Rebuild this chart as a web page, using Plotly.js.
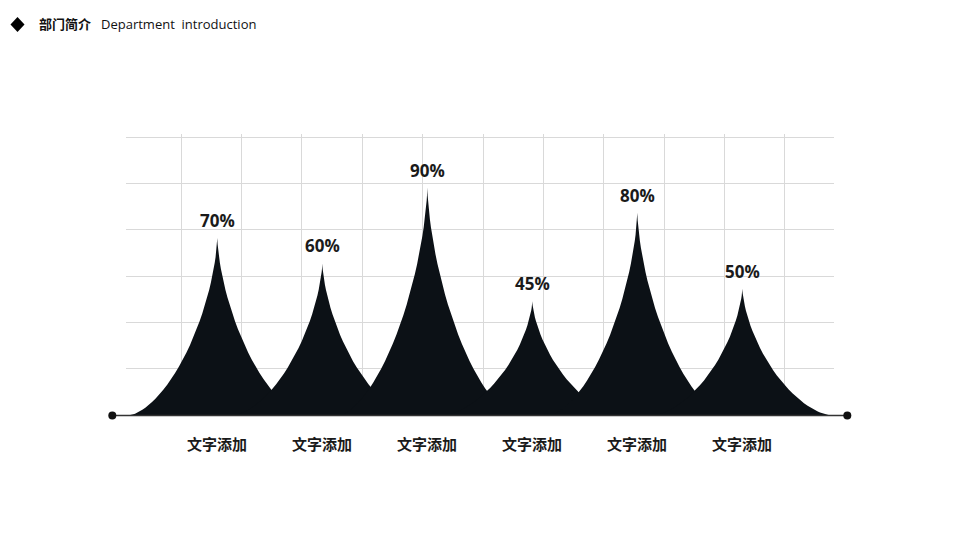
<!DOCTYPE html>
<html>
<head>
<meta charset="utf-8">
<script src="https://cdn.plot.ly/plotly-3.0.1.min.js"></script>
<style>
  html, body { margin: 0; padding: 0; background: #fff; }
  #chart { width: 960px; height: 548px; }
</style>
</head>
<body>
<div id="chart"></div>
<script>
// data
let categories = ['文字添加', '文字添加', '文字添加', '文字添加', '文字添加', '文字添加'];
let values = [70, 60, 90, 45, 80, 50];
let valueLabels = ['70%', '60%', '90%', '45%', '80%', '50%'];

let spikeColor = '#0c1116';
let halfWidth = 0.83;   // half of the spike base, in category units
let steps = 40;

// concave spike: astroid-like sides, flat at the foot, sharp at the tip
function spike(i, v) {
  let xs = [];
  let ys = [];
  for (let k = 0; k <= steps; k++) {
    let t = (k / steps) * Math.PI / 2;
    xs.push(i - halfWidth * Math.pow(Math.cos(t), 3));
    ys.push(v * Math.pow(Math.sin(t), 3));
  }
  for (let k = steps - 1; k >= 0; k--) {
    let t = (k / steps) * Math.PI / 2;
    xs.push(i + halfWidth * Math.pow(Math.cos(t), 3));
    ys.push(v * Math.pow(Math.sin(t), 3));
  }
  return {
    x: xs,
    y: ys,
    type: 'scatter',
    mode: 'lines',
    fill: 'toself',
    fillcolor: spikeColor,
    line: {width: 0, color: spikeColor},
    hoverinfo: 'skip',
    showlegend: false
  };
}

let data = [];
for (let i = 0; i < values.length; i++) {
  data.push(spike(i, values[i]));
}

// plot box in pixels: left 126, right 834, top 134, bottom 415
let plotW = 708;
let plotH = 281;
function px(x) { return (x - 126) / plotW; }
function py(y) { return (415 - y) / plotH; }

let annotations = [];
for (let i = 0; i < values.length; i++) {
  annotations.push({
    x: i, y: values[i], xref: 'x', yref: 'y',
    text: valueLabels[i],
    showarrow: false,
    yanchor: 'bottom',
    yshift: 4,
    font: {family: 'Open Sans, sans-serif', size: 17, weight: 700, color: '#1a1a1a'}
  });
  annotations.push({
    x: i, y: py(443), xref: 'x', yref: 'paper',
    text: categories[i],
    showarrow: false,
    yanchor: 'middle',
    font: {family: 'Noto Sans CJK SC, sans-serif', size: 15, weight: 700, color: '#1a1a1a'}
  });
}

// header
annotations.push({
  x: px(37), y: py(24), xref: 'paper', yref: 'paper',
  xanchor: 'left', yanchor: 'middle',
  text: '<b>部门简介</b>',
  showarrow: false,
  font: {family: 'Noto Sans CJK SC, sans-serif', size: 13, color: '#111'}
});
annotations.push({
  x: px(99), y: py(24), xref: 'paper', yref: 'paper',
  xanchor: 'left', yanchor: 'middle',
  text: 'Department  introduction',
  showarrow: false,
  font: {family: 'Open Sans, sans-serif', size: 13, color: '#111'}
});

// base line ends (dots) sit one category step outside the first and last spike
let lineLeft = 217.3 - 105;
let lineRight = 217.3 + 105 * categories.length;

let layout = {
  width: 960,
  height: 548,
  margin: {l: 126, r: 126, t: 134, b: 133, pad: 0},
  paper_bgcolor: '#fff',
  plot_bgcolor: '#fff',
  showlegend: false,
  xaxis: {
    range: [-0.8695, 5.873],
    tick0: -0.3457,
    dtick: 0.5752,
    showgrid: true,
    gridcolor: '#d9d9d9',
    gridwidth: 1,
    zeroline: false,
    showline: false,
    showticklabels: false,
    ticks: '',
    fixedrange: true
  },
  yaxis: {
    range: [0, 111.2],
    tick0: 0,
    dtick: 110 / 6,
    showgrid: true,
    gridcolor: '#d9d9d9',
    gridwidth: 1,
    zeroline: false,
    showline: false,
    showticklabels: false,
    ticks: '',
    fixedrange: true
  },
  shapes: [
    {
      type: 'path',
      xref: 'paper', yref: 'paper',
      path: 'M ' + px(17.5) + ' ' + py(17) + ' L ' + px(24.5) + ' ' + py(24.5) +
            ' L ' + px(17.5) + ' ' + py(32) + ' L ' + px(10.5) + ' ' + py(24.5) + ' Z',
      fillcolor: '#000',
      line: {width: 0}
    },
    {
      type: 'line',
      xref: 'paper', yref: 'paper',
      x0: px(lineLeft), x1: px(lineRight), y0: py(415.5), y1: py(415.5),
      line: {color: '#333', width: 1.5}
    },
    {
      type: 'circle',
      xref: 'paper', yref: 'paper',
      x0: px(lineLeft - 4), x1: px(lineLeft + 4), y0: py(419.5), y1: py(411.5),
      fillcolor: '#111',
      line: {width: 0}
    },
    {
      type: 'circle',
      xref: 'paper', yref: 'paper',
      x0: px(lineRight - 4), x1: px(lineRight + 4), y0: py(419.5), y1: py(411.5),
      fillcolor: '#111',
      line: {width: 0}
    }
  ],
  annotations: annotations
};

Plotly.newPlot('chart', data, layout, {displayModeBar: false, staticPlot: true});
</script>
</body>
</html>
